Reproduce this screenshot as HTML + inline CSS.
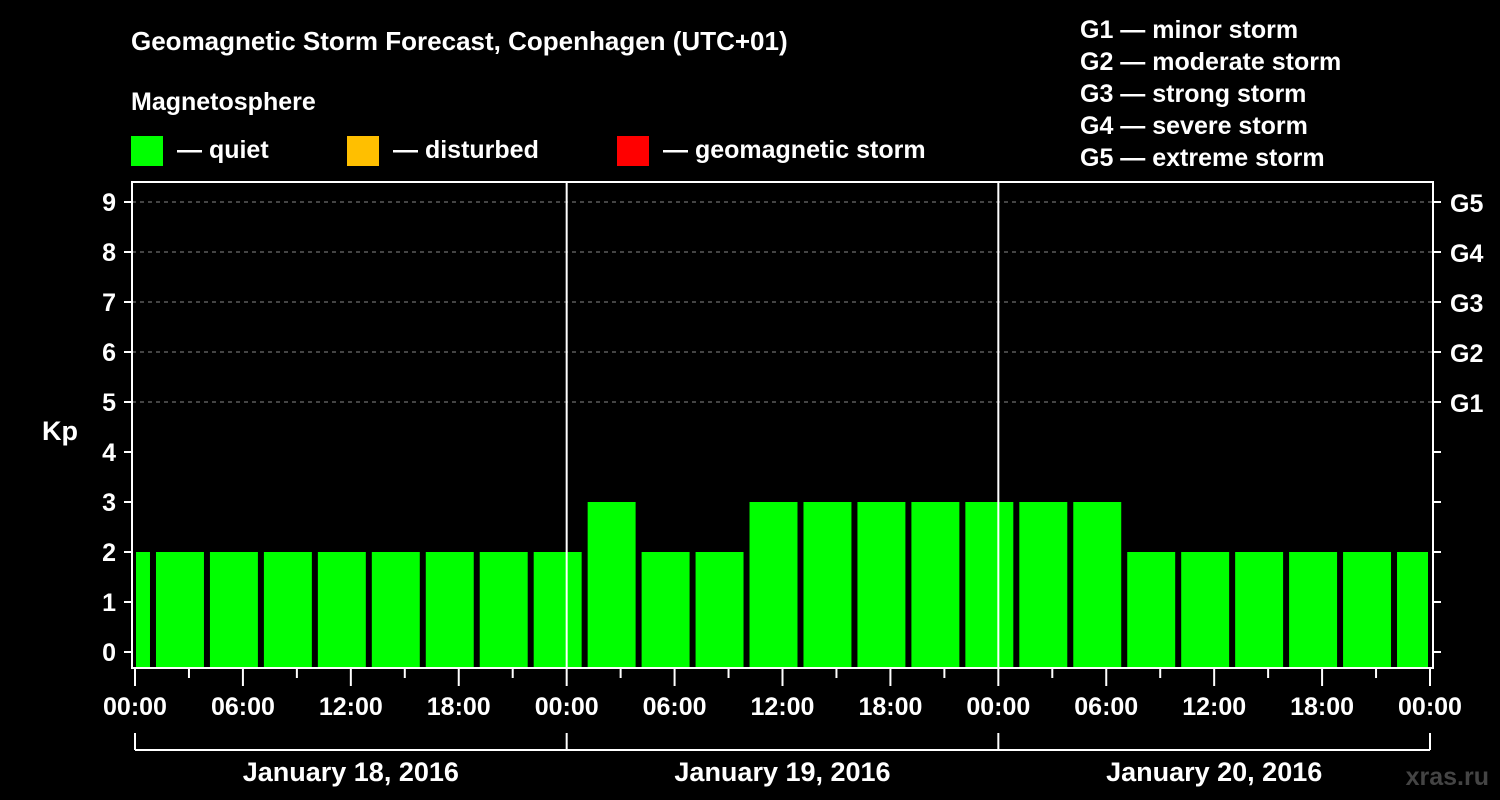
<!DOCTYPE html>
<html><head><meta charset="utf-8"><style>
html,body{margin:0;padding:0;background:#000;}
svg{display:block;font-family:"Liberation Sans",Arial,sans-serif;font-weight:bold;}
</style></head><body>
<svg width="1500" height="800" viewBox="0 0 1500 800">
<rect width="1500" height="800" fill="#000"/>
<text x="131" y="50" fill="#fff" font-size="26">Geomagnetic Storm Forecast, Copenhagen (UTC+01)</text>
<text x="131" y="110" fill="#fff" font-size="25">Magnetosphere</text>
<g><rect x="131" y="136" width="32" height="30" fill="#00ff00"/><text x="177" y="158" fill="#fff" font-size="25">— quiet</text></g>
<g><rect x="347" y="136" width="32" height="30" fill="#ffbf00"/><text x="393" y="158" fill="#fff" font-size="25">— disturbed</text></g>
<g><rect x="617" y="136" width="32" height="30" fill="#ff0000"/><text x="663" y="158" fill="#fff" font-size="25">— geomagnetic storm</text></g>
<g fill="#fff" font-size="25">
<text x="1080" y="38">G1 — minor storm</text>
<text x="1080" y="70">G2 — moderate storm</text>
<text x="1080" y="102">G3 — strong storm</text>
<text x="1080" y="134">G4 — severe storm</text>
<text x="1080" y="166">G5 — extreme storm</text>
</g>
<text x="42" y="440" fill="#fff" font-size="27">Kp</text>
<text x="1489" y="785" fill="#444" font-size="25" text-anchor="end">xras.ru</text>
<g id="grid"></g>
<g id="bars"></g>
<g id="axes"></g>
</svg>
<script>
const kpValues=[2,2,2,2,2,2,2,2,2,3,2,2,3,3,3,3,3,3,3,2,2,2,2,2,2];
const barStartHours=[-2,1,4,7,10,13,16,19,22,25,28,31,34,37,40,43,46,49,52,55,58,61,64,67,70];
const xTickLabels=["00:00","06:00","12:00","18:00","00:00","06:00","12:00","18:00","00:00","06:00","12:00","18:00","00:00"];
const dayLabels=["January 18, 2016","January 19, 2016","January 20, 2016"];
const gLabels=["G1","G2","G3","G4","G5"];
const NS="http://www.w3.org/2000/svg";
const L=132,R=1433,T=182,B=668;
const x=h=>135+h*(1295/72);
const y=k=>652-k*50;
function mk(p,tag,a){const e=document.createElementNS(NS,tag);for(const k in a)e.setAttribute(k,a[k]);p.appendChild(e);return e;}
const grid=document.getElementById('grid'),bars=document.getElementById('bars'),axes=document.getElementById('axes');
for(let k=5;k<=9;k++){const l=mk(grid,'line',{x1:L,x2:R,y1:y(k),y2:y(k),stroke:'#888','stroke-dasharray':'4,4','stroke-width':1});

}
kpValues.forEach((v,i)=>{const h=barStartHours[i];
const x0=Math.max(x(h)+3,136),x1=Math.min(x(h+3)-3,1428);
const r=mk(bars,'rect',{x:x0,y:y(v),width:x1-x0,height:B-1-y(v),fill:'#00ff00'});

});
[24,48].forEach(h=>{const l=mk(axes,'line',{x1:x(h),x2:x(h),y1:T,y2:B,stroke:'#fff','stroke-width':2});

});
const fr=mk(axes,'rect',{x:L,y:T,width:R-L,height:B-T,fill:'none',stroke:'#fff','stroke-width':2});


for(let k=0;k<=9;k++){
mk(axes,'line',{x1:L-8,x2:L,y1:y(k),y2:y(k),stroke:'#fff','stroke-width':2});
mk(axes,'line',{x1:R,x2:R+8,y1:y(k),y2:y(k),stroke:'#fff','stroke-width':2});
const t=mk(axes,'text',{x:116,y:y(k)+9,fill:'#fff','font-size':25,'text-anchor':'end'});t.textContent=k;

}
gLabels.forEach((g,i)=>{const t=mk(axes,'text',{x:1450,y:y(i+5)+10,fill:'#fff','font-size':25});t.textContent=g;

});
for(let h=0;h<=72;h+=3){mk(axes,'line',{x1:x(h),x2:x(h),y1:B,y2:B+(h%6==0?18:10),stroke:'#fff','stroke-width':2});}
xTickLabels.forEach((s,i)=>{const t=mk(axes,'text',{x:x(i*6),y:715,fill:'#fff','font-size':25,'text-anchor':'middle'});t.textContent=s;

});
mk(axes,'line',{x1:x(0),x2:x(72),y1:750,y2:750,stroke:'#fff','stroke-width':2});
for(let d=0;d<=3;d++)mk(axes,'line',{x1:x(d*24),x2:x(d*24),y1:733,y2:750,stroke:'#fff','stroke-width':2});
dayLabels.forEach((s,i)=>{const t=mk(axes,'text',{x:x(i*24+12),y:781,fill:'#fff','font-size':27,'text-anchor':'middle'});t.textContent=s;

});
</script>
</body></html>
